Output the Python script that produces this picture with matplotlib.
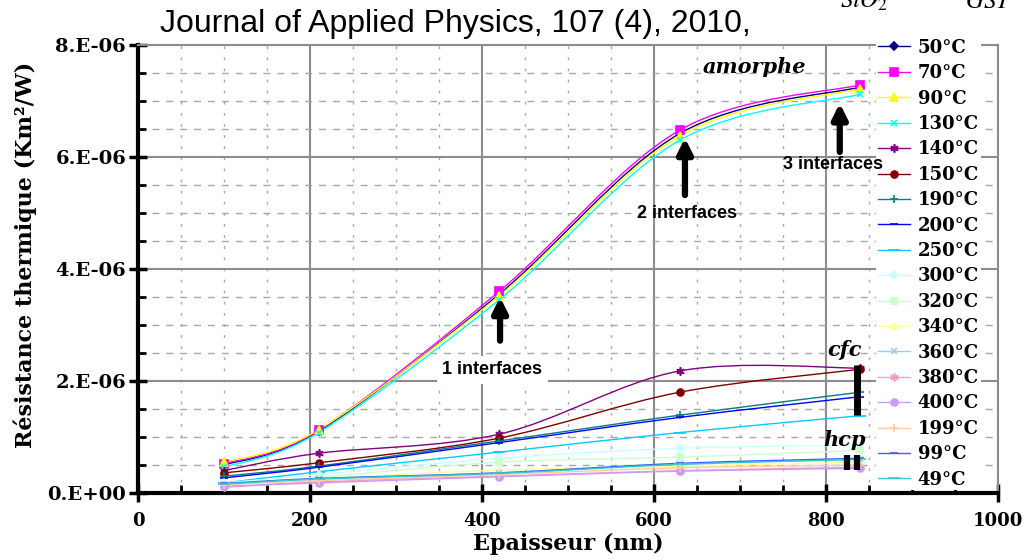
import numpy as np
import matplotlib
matplotlib.use('Agg')
import matplotlib.pyplot as plt
from matplotlib.path import Path
from matplotlib.patches import PathPatch
from matplotlib.lines import Line2D
from matplotlib.ticker import MultipleLocator, FixedLocator, FixedFormatter

# ---------------- data ----------------
thickness_nm = [100, 210, 420, 630, 840]

labels = ['50°C', '70°C', '90°C', '130°C', '140°C', '150°C', '190°C', '200°C',
          '250°C', '300°C', '320°C', '340°C', '360°C', '380°C', '400°C',
          '199°C', '99°C', '49°C']

r_50 = [0.50e-6, 1.10e-6, 3.55e-6, 6.42e-6, 7.25e-6]
r_70 = [0.52e-6, 1.12e-6, 3.60e-6, 6.48e-6, 7.29e-6]
r_90 = [0.55e-6, 1.13e-6, 3.52e-6, 6.38e-6, 7.22e-6]
r_130 = [0.46e-6, 1.08e-6, 3.45e-6, 6.30e-6, 7.12e-6]
r_140 = [0.40e-6, 0.71e-6, 1.05e-6, 2.18e-6, 2.23e-6]
r_150 = [0.36e-6, 0.54e-6, 0.98e-6, 1.80e-6, 2.21e-6]
r_190 = [0.30e-6, 0.48e-6, 0.93e-6, 1.39e-6, 1.80e-6]
r_200 = [0.27e-6, 0.46e-6, 0.90e-6, 1.35e-6, 1.72e-6]
r_250 = [0.18e-6, 0.38e-6, 0.73e-6, 1.08e-6, 1.38e-6]
r_300 = [0.18e-6, 0.33e-6, 0.62e-6, 0.80e-6, 0.85e-6]
r_320 = [0.15e-6, 0.28e-6, 0.55e-6, 0.64e-6, 0.76e-6]
r_340 = [0.14e-6, 0.25e-6, 0.41e-6, 0.48e-6, 0.55e-6]
r_360 = [0.15e-6, 0.25e-6, 0.36e-6, 0.52e-6, 0.60e-6]
r_380 = [0.10e-6, 0.20e-6, 0.30e-6, 0.40e-6, 0.46e-6]
r_400 = [0.12e-6, 0.18e-6, 0.29e-6, 0.39e-6, 0.44e-6]
r_199 = [0.15e-6, 0.22e-6, 0.33e-6, 0.45e-6, 0.50e-6]
r_99 = [0.17e-6, 0.26e-6, 0.36e-6, 0.53e-6, 0.62e-6]
r_49 = [0.16e-6, 0.25e-6, 0.35e-6, 0.51e-6, 0.60e-6]

all_series = [r_50, r_70, r_90, r_130, r_140, r_150, r_190, r_200, r_250,
              r_300, r_320, r_340, r_360, r_380, r_400, r_199, r_99, r_49]

x_ticks = [0, 200, 400, 600, 800, 1000]
x_ticklabels = ['0', '200', '400', '600', '800', '1000']
y_ticks = [0, 2e-6, 4e-6, 6e-6, 8e-6]
y_ticklabels = ['0.E+00', '2.E-06', '4.E-06', '6.E-06', '8.E-06']

# ---------------- styles ----------------
colors = ['#000080', '#FF00FF', '#FFFF00', '#00FFFF', '#800080', '#800000',
          '#008080', '#0000FF', '#00CCFF', '#CCFFFF', '#CCFFCC', '#FFFF99',
          '#99CCFF', '#FF99CC', '#CC99FF', '#FFCC99', '#3366FF', '#33CCCC']
asterisk = (6, 2, 0)
markers = ['D', 's', '^', 'x', asterisk, 'o', '+', '_', '_',
           'D', 's', '^', 'x', asterisk, 'o', '+', '_', '_']
msizes = [4, 6, 6, 5, 6, 5, 6, 6, 8, 4, 5, 5, 5, 6, 5, 6, 6, 8]

SERIF = 'DejaVu Serif'
SANS = 'Liberation Sans'


def smooth_path(xs, ys):
    P = np.column_stack([xs, ys]).astype(float)
    n = len(P)
    verts = [P[0]]
    codes = [Path.MOVETO]
    for i in range(n - 1):
        p0 = P[i - 1] if i > 0 else P[i]
        p1 = P[i]
        p2 = P[i + 1]
        p3 = P[i + 2] if i + 2 < n else P[i + 1]
        c1 = p1 + (p2 - p0) / 6.0
        c2 = p2 - (p3 - p1) / 6.0
        verts += [c1, c2, p2]
        codes += [Path.CURVE4] * 3
    return Path(verts, codes)


fig = plt.figure(figsize=(10.23, 5.6), dpi=100)
ax = fig.add_axes([138 / 1023, 1 - 493 / 560, 860 / 1023, 448 / 560])

handles = []
for vals, lab, c, m, ms in zip(all_series, labels, colors, markers, msizes):
    ax.add_patch(PathPatch(smooth_path(thickness_nm, vals), fill=False,
                           edgecolor=c, lw=1.0, transform=ax.transData,
                           zorder=3))
    ax.plot(thickness_nm, vals, ls='none', marker=m, color=c, ms=ms,
            mew=1.2, zorder=4)
    handles.append(Line2D([0], [0], color=c, lw=1.0, marker=m, ms=ms,
                          mew=1.2, label=lab))

ax.set_xlim(0, 1000)
ax.set_ylim(0, 8e-6)
ax.xaxis.set_major_locator(FixedLocator(x_ticks))
ax.xaxis.set_major_formatter(FixedFormatter(x_ticklabels))
ax.yaxis.set_major_locator(FixedLocator(y_ticks))
ax.yaxis.set_major_formatter(FixedFormatter(y_ticklabels))
ax.xaxis.set_minor_locator(MultipleLocator(50))
ax.yaxis.set_minor_locator(MultipleLocator(0.5e-6))

ax.grid(which='major', color='#8c8c8c', lw=1.5, ls='-', zorder=0)
ax.grid(which='minor', axis='y', color='#a8a8a8', lw=1.0, ls=(0, (5, 5)))
ax.grid(which='minor', axis='x', color='#a8a8a8', lw=1.0, ls=(0, (2, 6)))
ax.set_axisbelow(True)

for s in ['left', 'bottom']:
    ax.spines[s].set_color('black')
    ax.spines[s].set_linewidth(3)
for s in ['top', 'right']:
    ax.spines[s].set_color('#8c8c8c')
    ax.spines[s].set_linewidth(1.5)

ax.tick_params(which='major', direction='inout', length=13, width=2.5,
               color='black')
ax.tick_params(which='minor', direction='in', length=6, width=2, color='black')
ax.tick_params(axis='x', which='major', pad=7)
ax.tick_params(axis='y', which='major', pad=2)
ax.tick_params(top=False, right=False, which='both')
for lab in ax.get_xticklabels():
    lab.set_fontfamily(SERIF)
    lab.set_fontweight('bold')
    lab.set_fontsize(13)
for lab in ax.get_yticklabels():
    lab.set_fontfamily(SERIF)
    lab.set_fontweight('bold')
    lab.set_fontsize(14)

ax.set_xlabel('Epaisseur (nm)', family=SERIF, weight='bold', fontsize=16,
              labelpad=2)
ax.set_ylabel('Résistance thermique (Km²/W)', family=SERIF, weight='bold',
              fontsize=16)
ax.yaxis.set_label_coords(-0.118, 0.531)

# annotations
ann_font = dict(family=SANS, weight='bold', fontsize=13, zorder=7)
for xa, ytip, ybase in [(421, 3.50e-6, 2.72e-6), (636, 6.34e-6, 5.32e-6),
                        (816, 6.96e-6, 6.09e-6)]:
    ax.annotate('', xy=(xa, ytip), xytext=(xa, ybase),
                arrowprops=dict(arrowstyle='-|>', lw=4.5, color='black',
                                mutation_scale=22, shrinkA=0, shrinkB=0),
                zorder=6)
ax.text(412, 2.20e-6, '1 interfaces', ha='center', va='center',
        bbox=dict(facecolor='white', edgecolor='none', pad=4), **ann_font)
ax.text(638, 5.00e-6, '2 interfaces', ha='center', va='center', **ann_font)
ax.text(808, 5.86e-6, '3 interfaces', ha='center', va='center', **ann_font)

phase_font = dict(family=SERIF, weight='bold', style='italic', fontsize=15,
                  zorder=7)
ax.text(717, 7.60e-6, 'amorphe', ha='center', va='center', **phase_font)
ax.text(822, 2.55e-6, 'cfc', ha='center', va='center', **phase_font)
ax.text(822, 0.95e-6, 'hcp', ha='center', va='center', **phase_font)
ax.plot([836, 836], [1.39e-6, 2.28e-6], color='black', lw=5,
        solid_capstyle='butt', zorder=6)
ax.plot([824, 824], [0.41e-6, 0.68e-6], color='black', lw=4.5,
        solid_capstyle='butt', zorder=6)
ax.plot([836, 836], [0.41e-6, 0.68e-6], color='black', lw=4.5,
        solid_capstyle='butt', zorder=6)

leg = ax.legend(handles=handles, loc='upper left',
                bbox_to_anchor=(876 / 1023, 1 - 37 / 560),
                bbox_transform=fig.transFigure, frameon=True, fancybox=False,
                facecolor='white', edgecolor='none', framealpha=1,
                prop=dict(family=SERIF, weight='bold', size=13),
                handlelength=1.8, handletextpad=0.4, labelspacing=0.41,
                borderpad=0.1, borderaxespad=0)
leg.set_zorder(5)

fig.text(160 / 1023, 1 - 32 / 560, 'Journal of Applied Physics, 107 (4), 2010,',
         family=SANS, fontsize=23, ha='left', va='baseline')
fig.text(840 / 1023, 1 - 8 / 560, r'$SiO_2$', fontsize=18,
         math_fontfamily='stix', ha='left', va='baseline')
fig.text(965 / 1023, 1 - 8 / 560, r'$GST$', fontsize=18,
         math_fontfamily='stix', ha='left', va='baseline')

fig.savefig('out.png', dpi=100, facecolor='white')
